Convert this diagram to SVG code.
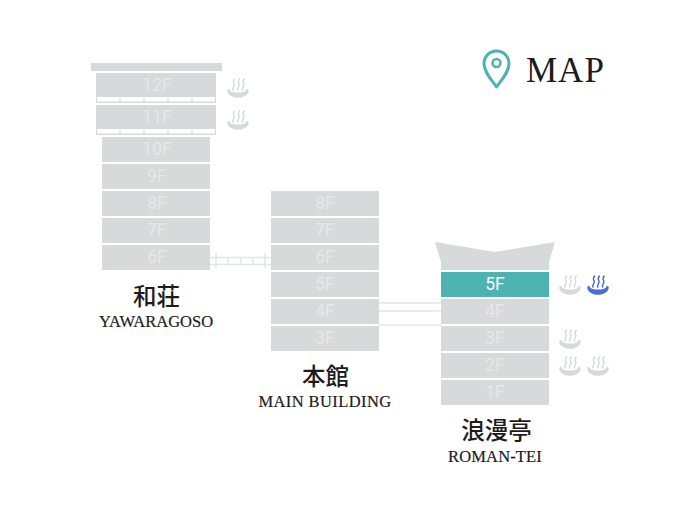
<svg xmlns="http://www.w3.org/2000/svg" width="680" height="520" viewBox="0 0 680 520">
<style>
.f{fill:#d7dada}
.t{font-family:"Roboto","Liberation Sans",sans-serif;font-size:17.5px;fill:#e6e8e8;text-anchor:middle}
.j{font-family:"Noto Sans CJK JP","Liberation Serif",serif;font-size:23.500px;font-weight:500;fill:#1c1c1c;text-anchor:middle}
.e{font-family:"Liberation Serif",serif;font-size:16.500px;fill:#1c1c1c;stroke:#1c1c1c;stroke-width:.2;text-anchor:middle}
.b{stroke:#e3e5e5;stroke-width:1.5;fill:none}
.o{color:#d7dada}
</style>
<defs>
<symbol id="onsen" width="22" height="20" viewBox="0 0 22 20" overflow="visible">
<path d="M6 12C4.500 10 8.500 8 7 5.500 6 4 6.500 2.500 7.500 1M10.800 12C9.300 10 13.300 8 11.800 5.500 10.800 4 11.300 2.500 12.300 1M15.600 12C14.100 10 18.100 8 16.600 5.500 15.600 4 16.100 2.500 17.100 1" fill="none" stroke="currentColor" stroke-width="1.500" stroke-linecap="round"/>
<path d="M0.300 12C0.600 10.800 2.700 10.800 3 12 3.500 13.800 7 14.600 11 14.600S18.500 13.800 19 12C19.300 10.800 21.400 10.800 21.700 12 22.300 16.500 16.500 19.800 11 19.800S-0.300 16.500 0.300 12Z" fill="currentColor"/>
</symbol>
</defs>
<g id="connectors">
<g class="b">
<path d="M210 257.500H271M210 264.500H271M216 253V268M228 257.500V264.500M241 257.500V264.500M253 257.500V264.500M265 253V268"/>
</g>
<path d="M379 303H441M379 311H441M379 325H441" stroke="#e3e5e5" stroke-width="1.500" fill="none"/>
</g>
<g id="yawaragoso">
<rect class="f" x="91" y="63" width="131" height="8"/>
<g id="y12"><rect class="f" x="96" y="73" width="120" height="30"/><rect x="97" y="97" width="118" height="4.500" fill="#fff"/><path d="M120 97V102M144 97V102M168 97V102M192 97V102" stroke="#d7dada"/><text class="t" x="157" y="90.500">12F</text></g>
<g id="y11"><rect class="f" x="96" y="105" width="120" height="30"/><rect x="97" y="129" width="118" height="4.500" fill="#fff"/><path d="M120 129V134M144 129V134M168 129V134M192 129V134" stroke="#d7dada"/><text class="t" x="157" y="122.500">11F</text></g>
<g id="y10"><rect class="f" x="102" y="137" width="108" height="25"/><text class="t" x="157" y="155">10F</text></g>
<g id="y9"><rect class="f" x="102" y="164" width="108" height="25"/><text class="t" x="157" y="182">9F</text></g>
<g id="y8"><rect class="f" x="102" y="191" width="108" height="25"/><text class="t" x="157" y="209">8F</text></g>
<g id="y7"><rect class="f" x="102" y="218" width="108" height="25"/><text class="t" x="157" y="236">7F</text></g>
<g id="y6"><rect class="f" x="102" y="245" width="108" height="25"/><text class="t" x="157" y="263">6F</text></g>
<use href="#onsen" x="227" y="78" class="o"/>
<use href="#onsen" x="227" y="110" class="o"/>
<text class="j" x="156.500" y="305">和荘</text>
<text class="e" x="156" y="327">YAWARAGOSO</text>
</g>
<g id="main-building">
<g id="m8"><rect class="f" x="271" y="191" width="108" height="25"/><text class="t" x="325" y="209">8F</text></g>
<g id="m7"><rect class="f" x="271" y="218" width="108" height="25"/><text class="t" x="325" y="236">7F</text></g>
<g id="m6"><rect class="f" x="271" y="245" width="108" height="25"/><text class="t" x="325" y="263">6F</text></g>
<g id="m5"><rect class="f" x="271" y="272" width="108" height="25"/><text class="t" x="325" y="290">5F</text></g>
<g id="m4"><rect class="f" x="271" y="299" width="108" height="25"/><text class="t" x="325" y="317">4F</text></g>
<g id="m3"><rect class="f" x="271" y="326" width="108" height="25"/><text class="t" x="325" y="344">3F</text></g>
<text class="j" x="325.500" y="385">本館</text>
<text class="e" x="325" y="407" letter-spacing=".4">MAIN BUILDING</text>
</g>
<g id="roman-tei">
<path class="f" d="M435 242L495 252L555 242L549 262V270H441V262Z"/>
<g id="r5"><rect x="441" y="272" width="108" height="25" fill="#4db3b1"/><text class="t" x="495" y="290" style="fill:#fff">5F</text></g>
<g id="r4"><rect class="f" x="441" y="299" width="108" height="25"/><text class="t" x="495" y="317">4F</text></g>
<g id="r3"><rect class="f" x="441" y="326" width="108" height="25"/><text class="t" x="495" y="344">3F</text></g>
<g id="r2"><rect class="f" x="441" y="353" width="108" height="25"/><text class="t" x="495" y="371">2F</text></g>
<g id="r1"><rect class="f" x="441" y="380" width="108" height="25"/><text class="t" x="495" y="398">1F</text></g>
<use href="#onsen" x="559" y="275" class="o"/>
<use href="#onsen" x="587" y="275" style="color:#4a6bd8"/>
<use href="#onsen" x="559" y="329" class="o"/>
<use href="#onsen" x="559" y="356" class="o"/>
<use href="#onsen" x="587" y="356" class="o"/>
<text class="j" x="496.500" y="439">浪漫亭</text>
<text class="e" x="495" y="462" letter-spacing=".15">ROMAN-TEI</text>
</g>
<g id="map-legend">
<path d="M496.500 87C491 79 484 72 484 63.500A12.500 12.500 0 0 1 509 63.500C509 72 502 79 496.500 87Z" fill="none" stroke="#4db3b1" stroke-width="3" stroke-linejoin="round"/>
<circle cx="496.500" cy="63" r="4" fill="none" stroke="#4db3b1" stroke-width="2.500"/>
<text x="526" y="82" font-family="Liberation Serif, serif" font-size="35" letter-spacing="1" fill="#1c1c1c">MAP</text>
</g>
</svg>
